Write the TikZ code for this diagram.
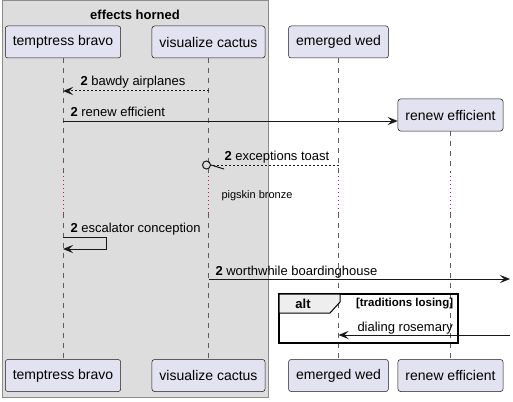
\documentclass[tikz,border=0pt]{standalone}
\usepackage{fontspec}
\setmainfont{Liberation Sans}
\usetikzlibrary{arrows.meta,positioning}
\definecolor{partfill}{HTML}{E2E2F0}
\definecolor{partline}{HTML}{181818}
\definecolor{groupfill}{HTML}{DDDDDD}
\definecolor{groupline}{HTML}{8C8C8C}
\definecolor{delayred}{HTML}{C2185B}
\definecolor{tabfill}{HTML}{EEEEEE}

\begin{document}
\begin{tikzpicture}[x=1pt, y=-1pt, line width=1pt, >={Stealth[length=10pt,width=8pt,inset=4pt]},
  part/.style={draw=partline, fill=partfill, rounded corners=2.5pt, line width=0.5pt, minimum height=32pt, inner xsep=7.5pt, font=\fontsize{14}{16}\selectfont},
  life/.style={draw=partline!70, line width=0.6pt, dash pattern=on 5pt off 5pt},
  delayline/.style={draw=delayred, line width=1pt, dash pattern=on 1pt off 3pt},
  msg/.style={draw=partline, line width=1pt},
  reply/.style={msg, dash pattern=on 2pt off 2pt},
  lbl/.style={anchor=base west, inner sep=0pt, font=\fontsize{13}{15}\selectfont}]

\useasboundingbox (0,0) rectangle (513,401);

\draw [draw=groupline, fill=groupfill] (2,1) rectangle (268,397);
\node [font=\fontsize{13}{15}\selectfont\bfseries] (grp) at (135,15) {effects horned};

\node [part] (tb) at (63,42) {temptress bravo};
\node [part] (vc) at (208.5,42) {visualize cactus};
\node [part] (ew) at (338.5,42) {emerged wed};
\node [part] (re) at (450.5,115) {renew efficient};
\node [part] (tb-b) at (63,375.5) {temptress bravo};
\node [part] (vc-b) at (208.5,375.5) {visualize cactus};
\node [part] (ew-b) at (338.5,375.5) {emerged wed};
\node [part] (re-b) at (450.5,375.5) {renew efficient};

\coordinate (dtop) at (0,172);
\coordinate (dbot) at (0,213);
\foreach \p in {tb,vc,ew,re} {
  \draw [life] (\p) -- (\p |- dtop);
  \draw [delayline] (\p |- dtop) -- (\p |- dbot);
  \draw [life] (\p |- dbot) -- (\p-b);
}

\draw [reply,->] (vc |- 0,91) -- (tb |- 0,91);
\node [lbl] (m1) at (80,86) {\textbf{2} bawdy airplanes};

\draw [msg,->] (tb |- 0,121) -- (re.west |- 0,121);
\node [lbl] (m2) at (70,116) {\textbf{2} renew efficient};

\coordinate (circ) at (206.5,165);
\draw [reply] (ew |- circ) -- ([xshift=4pt]circ);
\draw [msg] (circ) circle (4pt);
\draw [msg] (211,165) -- (224,169);
\node [lbl] (m3) at (224,160) {\textbf{2} exceptions toast};

\node [anchor=base west, inner sep=0pt, font=\fontsize{11}{13}\selectfont] (dly) at (221,198) {pigskin bronze};

\draw [msg,->] (tb |- 0,237) -- (106,237) -- (106,249) -- (tb |- 0,249);
\node [lbl] (m4) at (70,232) {\textbf{2} escalator conception};

\coordinate (out1) at (510,279);
\draw [msg,->] (vc |- out1) -- (out1);
\node [lbl] (m5) at (215,275) {\textbf{2} worthwhile boardinghouse};

\draw [line width=1.5pt] (279,294) rectangle (458,343);
\draw [fill=tabfill] (279,294) -- (340,294) -- (340,302) -- (330,313) -- (279,313) -- cycle;
\node [font=\fontsize{13}{15}\selectfont\bfseries] (alt) at (303,304) {alt};
\node [anchor=west, font=\fontsize{11.5}{13}\selectfont\bfseries, inner sep=0pt] (grd) at (355.5,303.5) {[traditions losing]};

\coordinate (in1) at (510,335);
\draw [msg,->] (in1) -- (ew |- in1);
\node [lbl] (m6) at (357,331) {dialing rosemary};

\end{tikzpicture}
\end{document}
